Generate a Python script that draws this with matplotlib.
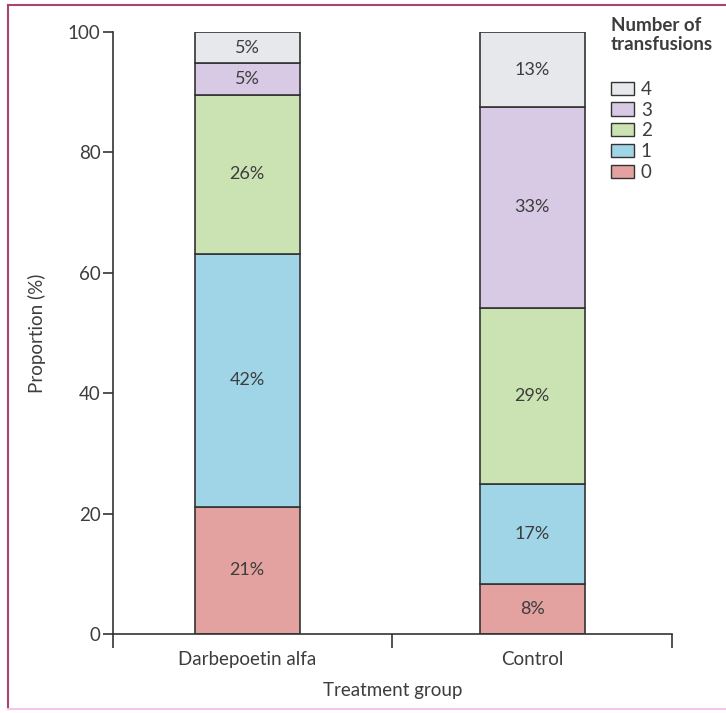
import math
import matplotlib
matplotlib.use("Agg")
import matplotlib.pyplot as plt
from matplotlib.patches import Patch
from matplotlib.lines import Line2D

plt.rcParams['font.family'] = ['Lato', 'DejaVu Sans']

# Treatment groups and share of patients (%) by number of transfusions
groups = ["Darbepoetin alfa", "Control"]
transfusion_counts = ["0", "1", "2", "3", "4"]
darbepoetin = [21.1, 42.1, 26.3, 5.3, 5.2]
control = [8.3, 16.7, 29.2, 33.3, 12.5]
colors = ["#e3a29f", "#9fd5e7", "#cbe2b2", "#d8cae4", "#e6e8eb"]

series = [darbepoetin, control]
text_color = "#3d3d3d"
edge_color = "#333333"
fs = 13

fig = plt.figure(figsize=(7.26, 7.13), dpi=100)
ax = fig.add_axes([113 / 726, 1 - 634 / 713, (672 - 113) / 726, (634 - 32) / 713])

bar_width = 0.375
positions = [-0.02, 1.0]
for gi, vals in enumerate(series):
    bottom = 0.0
    for ci, v in enumerate(vals):
        ax.bar(positions[gi], v, bottom=bottom, width=bar_width, color=colors[ci],
               edgecolor=edge_color, linewidth=1.2, zorder=2)
        label = f"{int(math.floor(v + 0.5))}%"
        ax.text(positions[gi], bottom + v / 2, label, ha="center", va="center",
                fontsize=fs, color=text_color, zorder=3)
        bottom += v

ax.set_xlim(-0.5, 1.5)
ax.set_ylim(0, 100)
ax.spines["top"].set_visible(False)
ax.spines["right"].set_visible(False)
for s in ("left", "bottom"):
    ax.spines[s].set_color(edge_color)
    ax.spines[s].set_linewidth(1.2)
ax.spines["bottom"].set_zorder(4)

ax.set_yticks([0, 20, 40, 60, 80, 100])
ax.tick_params(axis="y", direction="out", length=7, width=1.2, color=edge_color,
               labelsize=fs + 0.5, labelcolor=text_color, pad=2)

# Group separators as ticks, group names as minor labels
ax.set_xticks([-0.5, 0.5, 1.5])
ax.set_xticklabels([])
ax.tick_params(axis="x", which="major", direction="out", length=10, width=1.2,
               color=edge_color)
ax.set_xticks(positions, minor=True)
ax.set_xticklabels(groups, minor=True)
ax.tick_params(axis="x", which="minor", length=0, labelsize=fs + 0.5,
               labelcolor=text_color, pad=12)

ax.set_ylabel("Proportion (%)", fontsize=fs + 0.5, color=text_color, labelpad=16)
ax.set_xlabel("Treatment group", fontsize=fs + 0.5, color=text_color, labelpad=10)

handles = [Patch(facecolor=colors[i], edgecolor=edge_color, linewidth=1.0,
                 label=transfusion_counts[i]) for i in range(len(colors))][::-1]
leg = fig.legend(handles=handles, loc="upper left",
                 bbox_to_anchor=(607 / 726, 1 - 77 / 713), frameon=False,
                 fontsize=fs + 0.5, handlelength=1.25, handleheight=0.7,
                 handletextpad=0.35, labelspacing=0.2, borderaxespad=0,
                 borderpad=0.2)
for t in leg.get_texts():
    t.set_color(text_color)
fig.text(611 / 726, 1 - 17 / 713, "Number of\ntransfusions", ha="left", va="top",
         fontsize=fs + 0.5, fontweight="bold", color=text_color, linespacing=1.15)

# Panel frame
fig.add_artist(Line2D([8 / 726, 8 / 726], [1 - 709 / 713, 1 - 5 / 713],
                      color="#a8456f", linewidth=1.5, transform=fig.transFigure))
fig.add_artist(Line2D([8 / 726, 1.0], [1 - 5 / 713, 1 - 5 / 713],
                      color="#a8456f", linewidth=1.5, transform=fig.transFigure))
fig.add_artist(Line2D([8 / 726, 1.0], [1 - 709 / 713, 1 - 709 / 713],
                      color="#f3c6ea", linewidth=1.5, transform=fig.transFigure))

fig.savefig("out.png", dpi=100)
